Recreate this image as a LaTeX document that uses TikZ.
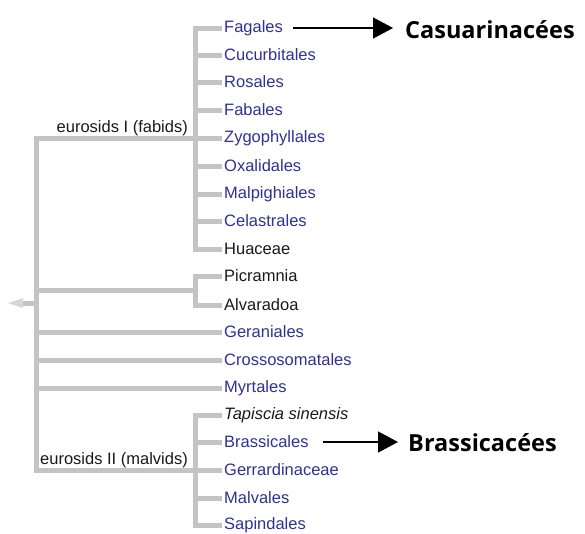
\documentclass[tikz,border=0pt]{standalone}
\usepackage{fontspec}
\setmainfont{Liberation Sans}
\newfontfamily\bigfont{Open Sans}
\usetikzlibrary{arrows.meta}
\definecolor{treegray}{RGB}{196,196,196}
\definecolor{taxblue}{RGB}{48,48,150}
\definecolor{taxdark}{RGB}{25,25,25}

\begin{document}
\begin{tikzpicture}[x=1pt,y=-1pt,
  branch/.style={draw=treegray,line width=5pt,line join=miter},
  taxon/.style={anchor=west,inner sep=2pt,text=taxblue,font=\fontsize{16.5}{18}\selectfont},
  plain/.style={taxon,text=taxdark},
  clade/.style={anchor=base east,inner sep=0pt,text=taxdark,font=\fontsize{16.5}{18}\selectfont},
  family/.style={anchor=west,inner sep=0pt,font=\bigfont\bfseries\fontsize{23.5}{27}\selectfont},
  pointer/.style={-{Triangle[length=20pt,width=21pt]},line width=1.5pt}]
  \useasboundingbox (0,0) rectangle (585,533);

  % internal points of the tree
  \coordinate (root) at (36,303);
  \coordinate (stub) at (23,303);
  \coordinate (fab)  at (195,138);
  \coordinate (pic)  at (195,290);
  \coordinate (mal)  at (195,470);

  % leaves
  \node[taxon](Fagales)        at (222, 28)  {Fagales};
  \node[taxon](Cucurbitales)   at (222, 55)  {Cucurbitales};
  \node[taxon](Rosales)        at (222, 82)  {Rosales};
  \node[taxon](Fabales)        at (222,110)  {Fabales};
  \node[taxon](Zygophyllales)  at (222,138)  {Zygophyllales};
  \node[taxon](Oxalidales)     at (222,166)  {Oxalidales};
  \node[taxon](Malpighiales)   at (222,194)  {Malpighiales};
  \node[taxon](Celastrales)    at (222,221)  {Celastrales};
  \node[plain](Huaceae)        at (222,249)  {Huaceae};
  \node[plain](Picramnia)      at (222,276)  {Picramnia};
  \node[plain](Alvaradoa)      at (222,305)  {Alvaradoa};
  \node[taxon](Geraniales)     at (222,332)  {Geraniales};
  \node[taxon](Crossosomatales)at (222,360)  {Crossosomatales};
  \node[taxon](Myrtales)       at (222,388)  {Myrtales};
  \node[plain](Tapiscia)       at (222,415)  {\itshape Tapiscia sinensis};
  \node[taxon](Brassicales)    at (222,442)  {Brassicales};
  \node[taxon](Gerrardinaceae) at (222,470)  {Gerrardinaceae};
  \node[taxon](Malvales)       at (222,498)  {Malvales};
  \node[taxon](Sapindales)     at (222,525)  {Sapindales};

  % clade names
  \node[clade](fabids)  at (188,132) {eurosids I (fabids)};
  \node[clade](malvids) at (188,464) {eurosids II (malvids)};

  % branches
  \foreach \leaf in {Fagales,Cucurbitales,Rosales,Fabales,Zygophyllales,
                     Oxalidales,Malpighiales,Celastrales,Huaceae}
    \draw[branch] (fab) |- (\leaf.west);
  \foreach \leaf in {Picramnia,Alvaradoa}
    \draw[branch] (pic) |- (\leaf.west);
  \foreach \leaf in {Tapiscia,Brassicales,Gerrardinaceae,Malvales,Sapindales}
    \draw[branch] (mal) |- (\leaf.west);
  \foreach \sub in {fab,pic,mal}
    \draw[branch] (root) |- (\sub);
  \foreach \leaf in {Geraniales,Crossosomatales,Myrtales}
    \draw[branch] (root) |- (\leaf.west);
  \draw[branch] ([xshift=2.5pt]root) -- (stub);
  \fill[treegray!70] (stub) -- ++(0,-5) -- ++(-15,5) -- ++(15,5) -- cycle;

  % families
  \node[family](Casuarinacees) at (405,30)  {Casuarinacées};
  \node[family](Brassicacees)  at (408,443) {Brassicacées};
  \draw[pointer,shorten >=12pt] ([xshift=8pt]Fagales.east) -- (Casuarinacees.west |- Fagales.east);
  \draw[pointer,shorten >=10pt] ([xshift=12pt]Brassicales.east) -- (Brassicacees.west |- Brassicales.east);
\end{tikzpicture}
\end{document}
